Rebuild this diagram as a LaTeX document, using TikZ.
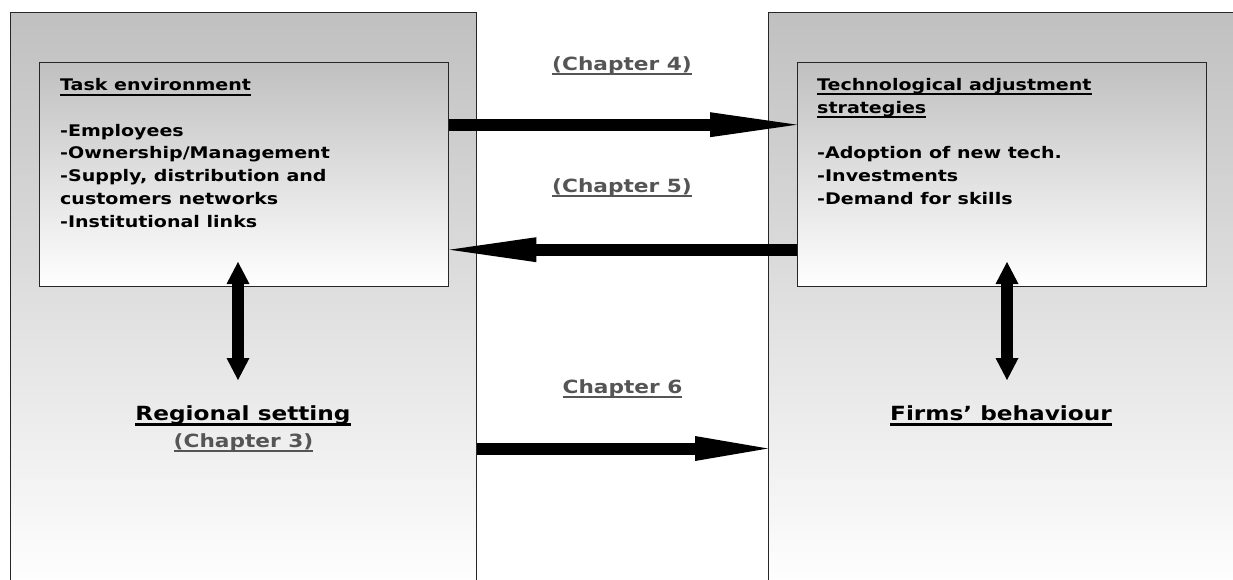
\documentclass[tikz,border=0pt]{standalone}
\usepackage{fontspec}
\setmainfont{DejaVu Sans}[FakeStretch=1.19]
\usetikzlibrary{arrows.meta}
\definecolor{panelgray}{RGB}{192,192,192}
\definecolor{chapgray}{RGB}{85,85,85}
% underline drawn at a fixed offset below the baseline, crossing descenders
\newcommand\ulined[1]{\setbox0\hbox{#1}\rlap{\rule[-0.3em]{\wd0}{0.13em}}\box0}
\begin{document}
\begin{tikzpicture}[x=1pt,y=-1pt,
  panel/.style={draw=black!85, line width=1pt, top color=panelgray, bottom color=white,
    minimum width=#1, minimum height=580pt, anchor=north west, inner sep=0pt},
  innerbox/.style={draw=black!85, line width=1.4pt, top color=panelgray, bottom color=white,
    minimum width=409pt, minimum height=224pt, anchor=north west, inner sep=0pt},
  bodytext/.style={font=\bfseries\fontsize{16}{22.7}\selectfont, align=left, inner sep=0pt, anchor=base west},
  bigtext/.style={font=\bfseries\fontsize{19.5}{22}\selectfont, inner sep=0pt, anchor=base},
  chaptext/.style={font=\bfseries\fontsize{18.2}{20}\selectfont, text=chapgray, inner sep=0pt, anchor=base},
  fatarrow/.style={line width=12pt, -{Triangle[length=#1,width=25pt,line width=0pt]}},
  fatarrow/.default=87pt,
  vertarrow/.style={line width=12pt,
    {Triangle[length=22pt,width=23pt,line width=0pt]}-{Triangle[length=22pt,width=23pt,line width=0pt]}}
]
\useasboundingbox (0,0) rectangle (1233,579);

% outer panels (run past the lower page edge)
\node[panel=466pt] (leftpanel) at (10,12) {};
\node[panel=472pt] (rightpanel) at (768,12) {};

% inner boxes
\node[innerbox] (taskbox) at (39,62) {};
\node[innerbox] (techbox) at (797,62) {};

% box contents (anchored at the baseline of the last line)
\node[bodytext] (tasktext) at (60,227) {\ulined{Task environment}\\[22.7pt]
  -Employees\\-Ownership/Management\\-Supply, distribution and\\customers networks\\-Institutional links};
\node[bodytext] (techtext) at (817,204) {\ulined{Technological adjustment}\\\ulined{strategies}\\[22.7pt]
  -Adoption of new tech.\\-Investments\\-Demand for skills};

% lower labels
\node[bigtext] (regional) at (243,420) {\ulined{Regional setting}};
\node[chaptext] (chap3) at (243.5,447) {\ulined{(Chapter 3)}};
\node[bigtext] (firms) at (1001,420) {\ulined{Firms’ behaviour}};

% chapter labels between the panels
\node[chaptext] (chap4) at (622,70) {\ulined{(Chapter 4)}};
\node[chaptext] (chap5) at (622,192) {\ulined{(Chapter 5)}};
\node[chaptext] (chap6) at (622.5,393) {\ulined{Chapter 6}};

% connectors
\draw[fatarrow] ([yshift=50pt]taskbox.east) -- ([yshift=50pt]techbox.west);
\draw[fatarrow] ([yshift=-75pt]techbox.west) -- ([yshift=-75pt]taskbox.east);
\draw[fatarrow=73pt] ([yshift=-146pt]leftpanel.east) -- ([yshift=-146pt]rightpanel.west);

\coordinate (ltop) at (238,262);
\coordinate (lbot) at (238,380);
\coordinate (rtop) at (1007,262);
\coordinate (rbot) at (1007,380);
\draw[vertarrow] (ltop) -- (lbot);
\draw[vertarrow] (rtop) -- (rbot);
\end{tikzpicture}
\end{document}
